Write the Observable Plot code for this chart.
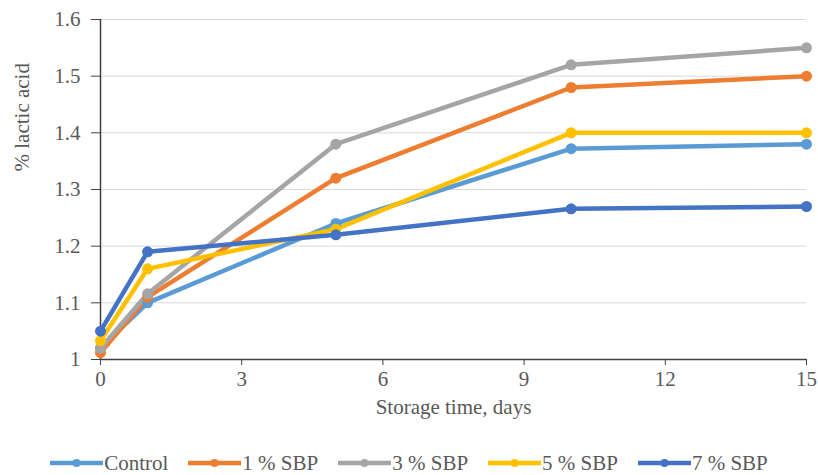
<!DOCTYPE html>
<html>
<head>
<meta charset="utf-8">
<script src="https://cdn.jsdelivr.net/npm/d3@7"></script>
<script src="https://cdn.jsdelivr.net/npm/@observablehq/plot@0.6"></script>
<style>
  body { margin: 0; background: #fff; }
  #wrap { width: 818px; height: 475px; position: relative; font-family: "Liberation Serif", "Times New Roman", serif; }
  #legend { position: absolute; left: 0; top: 451px; width: 818px; height: 24px; display: flex; justify-content: center; align-items: center; gap: 20px; font-size: 21px; color: #595959; }
  .item { display: flex; align-items: center; gap: 1px; }
  svg text { font-family: "Liberation Serif", "Times New Roman", serif; }
</style>
</head>
<body>
<div id="wrap">
  <div id="chart"></div>
  <div id="legend"></div>
</div>
<script>
const days = [0, 1, 5, 10, 15];
const seriesNames = ["Control", "1 % SBP", "3 % SBP", "5 % SBP", "7 % SBP"];
const seriesColors = ["#5B9BD5", "#ED7D31", "#A5A5A5", "#FFC000", "#4472C4"];
const control = [1.02, 1.10, 1.24, 1.372, 1.38];
const sbp1 = [1.012, 1.11, 1.32, 1.48, 1.50];
const sbp3 = [1.02, 1.116, 1.38, 1.52, 1.55];
const sbp5 = [1.033, 1.16, 1.23, 1.40, 1.40];
const sbp7 = [1.05, 1.19, 1.22, 1.266, 1.27];
const xTicks = [0, 3, 6, 9, 12, 15];
const yTicks = [1, 1.1, 1.2, 1.3, 1.4, 1.5, 1.6];
const xTitle = "Storage time, days";
const yTitle = "% lactic acid";

const allValues = [control, sbp1, sbp3, sbp5, sbp7];
const data = [];
seriesNames.forEach((s, i) => days.forEach((d, j) => data.push({series: s, day: d, value: allValues[i][j]})));

const font = "'Liberation Serif', 'Times New Roman', serif";
const textColor = "#595959";

const chart = Plot.plot({
  width: 818,
  height: 440,
  marginLeft: 100,
  marginRight: 12,
  marginTop: 19,
  marginBottom: 81,
  style: {fontFamily: font, fontSize: "21px", color: textColor, background: "#fff", overflow: "visible"},
  x: {domain: [0, 15]},
  y: {domain: [1, 1.6]},
  color: {domain: seriesNames, range: seriesColors},
  marks: [
    Plot.gridY(yTicks.slice(1), {stroke: "#d9d9d9", strokeOpacity: 1, strokeWidth: 1}),
    Plot.axisY(yTicks, {tickSize: 9, tickPadding: 11, label: null, tickFormat: d => String(+d.toFixed(1)), stroke: "#404040", fill: textColor, fontSize: 21}),
    Plot.axisX(xTicks, {tickSize: 6, tickPadding: 6, label: null, stroke: "#404040", fill: textColor, fontSize: 21}),
    Plot.ruleY([1], {stroke: "#404040", strokeWidth: 1.5}),
    Plot.ruleX([0], {stroke: "#404040", strokeWidth: 1.5}),
    Plot.line(data, {x: "day", y: "value", z: "series", stroke: "series", strokeWidth: 4.5}),
    Plot.dot(data, {x: "day", y: "value", fill: "series", r: 5.5}),
    Plot.text([xTitle], {frameAnchor: "bottom", dy: 54, fill: textColor, fontSize: 21}),
    Plot.text([yTitle], {frameAnchor: "left", dx: -78, dy: -18, rotate: -90, fill: textColor, fontSize: 21})
  ]
});
document.getElementById("chart").appendChild(chart);

const legend = document.getElementById("legend");
seriesNames.forEach((s, i) => {
  const item = document.createElement("div");
  item.className = "item";
  item.innerHTML = `<svg width="53" height="12"><line x1="0" x2="53" y1="6" y2="6" stroke="${seriesColors[i]}" stroke-width="4.5"/><circle cx="26.5" cy="6" r="4" fill="${seriesColors[i]}"/></svg><span>${s}</span>`;
  legend.appendChild(item);
});
</script>
</body>
</html>
